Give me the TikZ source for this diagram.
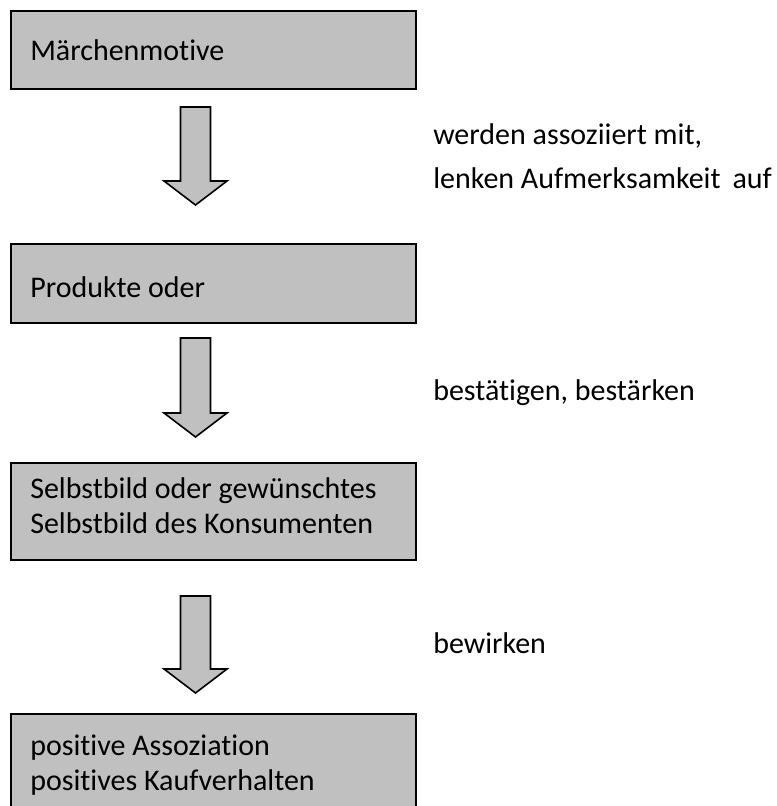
\documentclass[tikz,border=0pt]{standalone}
\usepackage{fontspec}
\setmainfont[Ligatures=NoCommon]{Carlito}
\definecolor{boxgray}{RGB}{192,192,192}
\tikzset{
  flowbox/.style={draw=black, fill=boxgray, line width=1.2pt, anchor=north west, inner sep=0pt, minimum width=303.75pt},
  txt/.style={anchor=base west, inner sep=0pt, font=\fontsize{22.5}{27}\selectfont},
  arrowbox/.style={draw=black, fill=boxgray, line width=1.2pt, line join=miter}
}
\newcommand\blockarrow[4]{%
  \draw[arrowbox] ($(#1,#2)+(-15,0)$) -- ($(#1,#2)+(15,0)$) -- ($(#1,#3)+(15,0)$) -- ($(#1,#3)+(31.5,0)$) -- (#1,#4) -- ($(#1,#3)+(-31.5,0)$) -- ($(#1,#3)+(-15,0)$) -- cycle;}
\usetikzlibrary{calc}
\begin{document}
\begin{tikzpicture}[x=0.75pt, y=-0.75pt]
  \clip (0,0) rectangle (777,806);
  \fill[white] (0,0) rectangle (777,806);
  % boxes
  \node[flowbox, minimum height=58.5pt] (b1) at (10,10) {};
  \node[flowbox, minimum height=59.25pt] (b2) at (10,243) {};
  \node[flowbox, minimum height=72.75pt] (b3) at (10,462) {};
  \node[flowbox, minimum height=90pt] (b4) at (10,713) {};
  % box texts
  \node[txt] (t1) at (30,61) {Märchenmotive};
  \node[txt] (t2) at (30,297) {Produkte oder};
  \node[txt] (t3a) at (30,498) {Selbstbild oder gewünschtes};
  \node[txt] (t3b) at (30,533) {Selbstbild des Konsumenten};
  \node[txt] (t4a) at (30,755) {positive Assoziation};
  \node[txt] (t4b) at (30,790) {positives Kaufverhalten};
  % arrows
  \blockarrow{195.5}{107}{181}{205}
  \blockarrow{195.5}{338}{413}{437}
  \blockarrow{195.5}{596}{669}{693}
  % labels
  \node[txt] (l1a) at (433,145) {werden assoziiert mit,};
  \node[txt] (l1b) at (433,188) {lenken Aufmerksamkeit\hspace{0.4em}auf};
  \node[txt] (l2) at (433,400) {bestätigen, bestärken};
  \node[txt] (l3) at (433,653) {bewirken};
\end{tikzpicture}
\end{document}
